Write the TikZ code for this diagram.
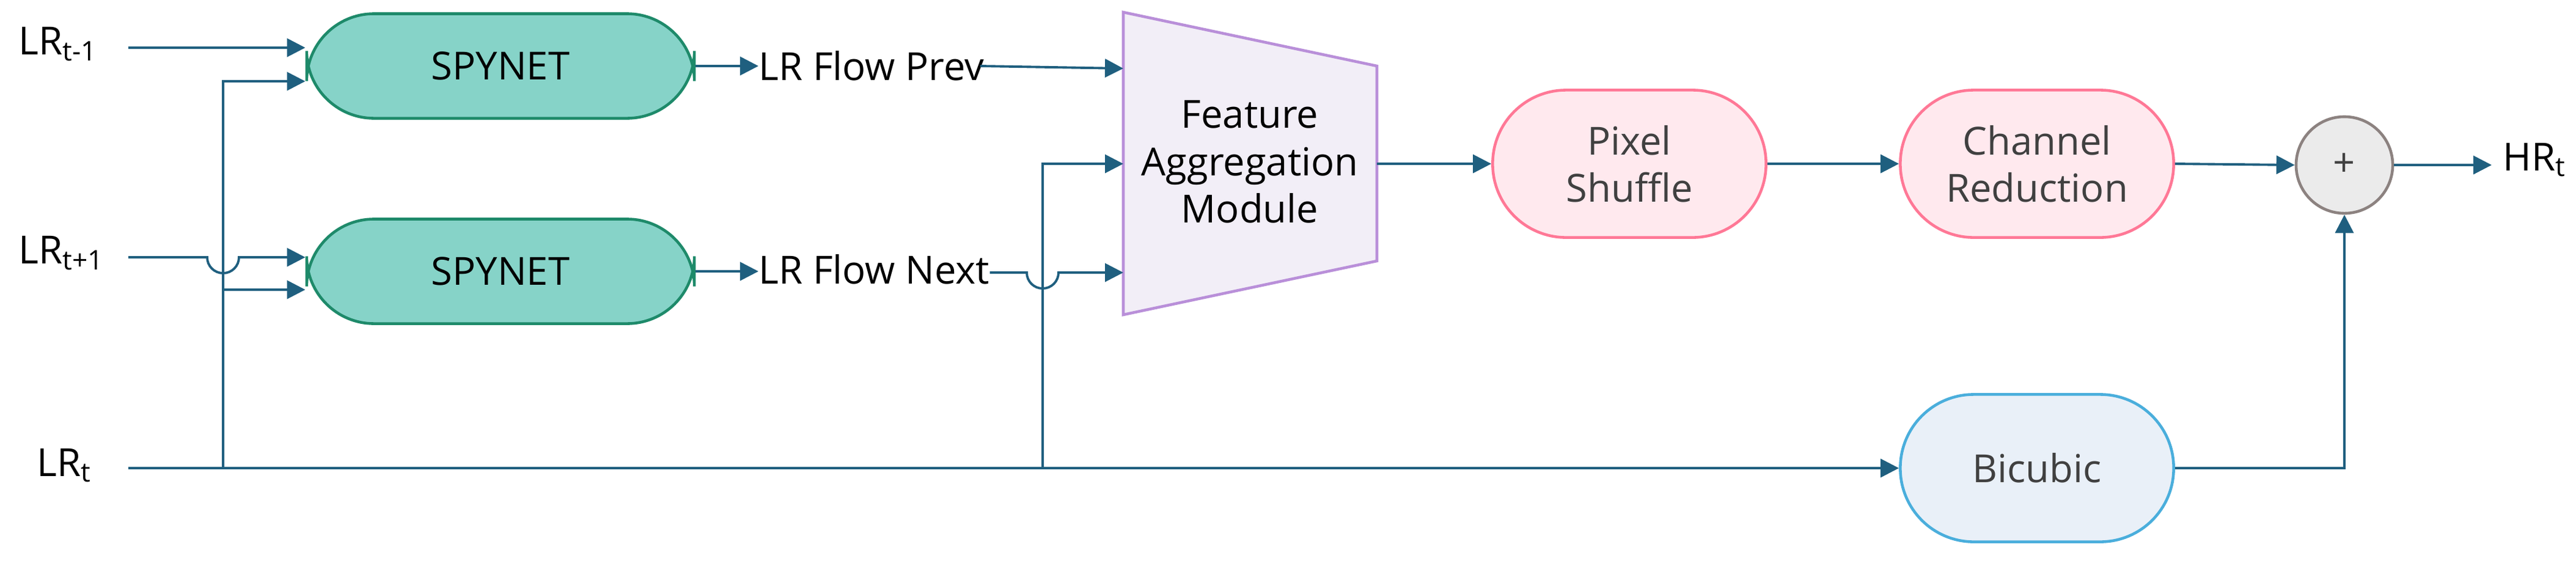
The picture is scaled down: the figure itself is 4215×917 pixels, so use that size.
\documentclass[tikz,border=0pt]{standalone}
\usepackage{fontspec}
\setmainfont{Open Sans}
\usetikzlibrary{arrows.meta}
\definecolor{ln}{HTML}{1F5F7F}
\definecolor{spf}{HTML}{86D3C8}\definecolor{spd}{HTML}{1E8A6A}
\definecolor{tf}{HTML}{F2EEF7}\definecolor{td}{HTML}{B98FD9}
\definecolor{pf}{HTML}{FFE9EE}\definecolor{pd}{HTML}{FF7896}
\definecolor{bf}{HTML}{E9F0F8}\definecolor{bd}{HTML}{4AAEDC}
\definecolor{cf}{HTML}{EBEBEB}\definecolor{cd}{HTML}{8C8280}
\begin{document}
\begin{tikzpicture}[x=0.01cm,y=-0.01cm,
  every node/.style={font=\fontsize{18}{22}\selectfont},
  conn/.style={draw=ln,line width=1.1pt},
  arr/.style={conn,-{Triangle[length=0.3cm,width=0.3cm]}},
  spy/.style={draw=spd,fill=spf,line width=1.3pt,rounded corners=1.1cm,minimum width=6.34cm,minimum height=1.71cm},
  pink/.style={draw=pd,fill=pf,line width=1.3pt,rounded corners=1.2cm,minimum width=4.47cm,minimum height=2.41cm,text=black!75,align=center},
  lab/.style={inner sep=0pt}]
\useasboundingbox (0,0) rectangle (4215,917);
% labels
\node[lab,anchor=west] (l1) at (30,72) {LR\textsubscript{t-1}};
\node[lab,anchor=west] (l2) at (30,414) {LR\textsubscript{t+1}};
\node[lab,anchor=west] (l0) at (60,762) {LR\textsubscript{t}};
\coordinate (s1) at (210,78);
\coordinate (s2) at (210,421);
\coordinate (s0) at (210,766);
% spynets
\node[spy] (sp1) at (819,108) {SPYNET};
\node[spy] (sp2) at (819,444) {SPYNET};
\node[lab,anchor=west] (fp) at (1241,108) {LR Flow Prev};
\node[lab,anchor=west] (fn) at (1241,441) {LR Flow Next};
% trapezoid
\coordinate (t1) at (1838,20); \coordinate (t2) at (2253,108);
\coordinate (t3) at (2253,427); \coordinate (t4) at (1838,515);
\draw[draw=td,fill=tf,line width=1.3pt] (t1)--(t2)--(t3)--(t4)--cycle;
\node[align=center] (fam) at (2045,265) {Feature\\Aggregation\\Module};
\node[pink] (ps) at (2666,268) {Pixel\\Shuffle};
\node[pink] (cr) at (3333,268) {Channel\\Reduction};
\node[pink,draw=bd,fill=bf] (bc) at (3333,766) {Bicubic};
\node[circle,draw=cd,fill=cf,line width=1.3pt,minimum size=1.58cm,text=black!75] (pl) at (3836,270) {+};
\node[lab,anchor=west] (hr) at (4095,262) {HR\textsubscript{t}};
\coordinate (hre) at (4077,270);
% connectors
\draw[arr] (s1) -- (s1 -| sp1.west);
\coordinate (v1) at (365,766);
\draw[arr] (v1) |- (sp1.west |- 0,133);
\draw[arr] (v1 |- 0,474) -- (sp2.west |- 0,474);
\draw[arr] (s2) -- (339,421) arc[start angle=180,end angle=0,radius=26] -- (sp2.west |- s2);
\draw[arr] (sp1.east) -- (fp.west);
\draw[arr] (sp2.east |- 0,444) -- (fn.west |- 0,444);
\draw[arr] (1604,108) -- (t1 |- 0,112);
\coordinate (v2) at (1706,766);
\draw[arr] (v2) |- (t1 |- 0,268);
\draw[arr] (fn.east |- 0,446) -- (1680,446) arc[start angle=180,end angle=0,radius=26] -- (t1 |- 0,446);
\draw[conn] (s0) -- (v2);
\draw[arr] (v2) -- (bc.west);
\draw[arr] (t2 |- 0,268) -- (ps.west);
\draw[arr] (ps.east) -- (cr.west);
\draw[arr] (cr.east) -- (pl.west);
\draw[arr] (pl.east) -- (hre);
\draw[arr] (bc.east) -| (pl.south);
\end{tikzpicture}
\end{document}
